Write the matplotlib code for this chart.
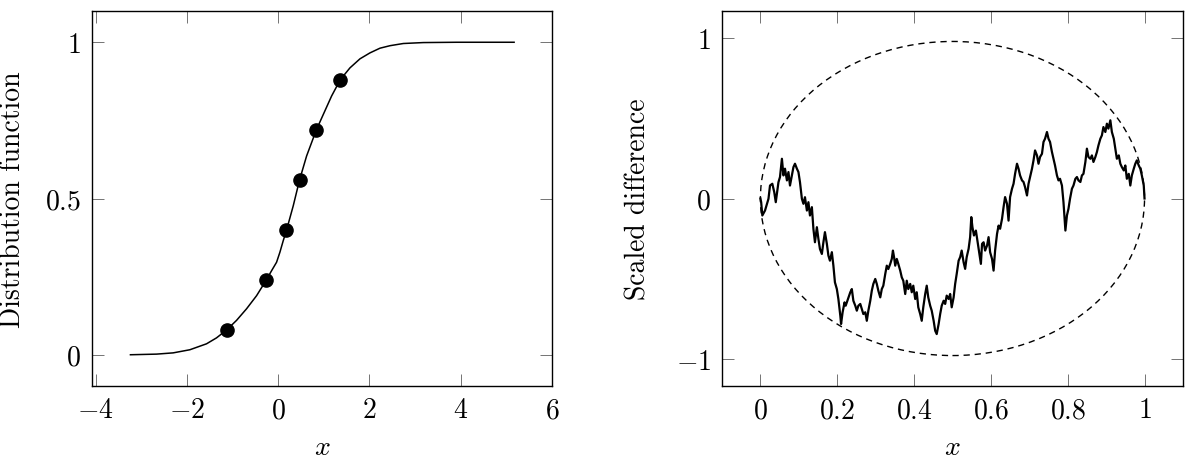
import matplotlib
matplotlib.use("Agg")
import matplotlib.pyplot as plt
from matplotlib.patches import Ellipse

plt.rcParams['font.family'] = 'serif'
plt.rcParams['font.serif'] = ['cmr10', 'DejaVu Serif']
plt.rcParams['mathtext.fontset'] = 'cm'
plt.rcParams['axes.formatter.use_mathtext'] = True

# Left panel: smoothed distribution function and sample points
cdf_x = [-3.238, -2.667, -2.302, -1.936, -1.571, -1.352, -1.125, -0.913, -0.694, -0.474,
         -0.270, -0.145, -0.036, 0.037, 0.110, 0.183, 0.330, 0.467, 0.622, 0.834,
         0.988, 1.170, 1.360, 1.572, 1.792, 2.011, 2.230, 2.450, 2.742, 3.180,
         3.912, 5.169]
cdf_y = [0.0, 0.002, 0.006, 0.016, 0.035, 0.054, 0.080, 0.110, 0.147, 0.189,
         0.237, 0.269, 0.296, 0.328, 0.365, 0.399, 0.477, 0.559, 0.636, 0.719,
         0.769, 0.828, 0.880, 0.918, 0.947, 0.966, 0.981, 0.989, 0.996, 0.999,
         1.0, 1.0]
sample_x = [-1.125, -0.27, 0.18, 0.47, 0.83, 1.36]
sample_y = [0.08, 0.24, 0.40, 0.56, 0.72, 0.88]

left_xticks = [-4, -2, 0, 2, 4, 6]
left_xlabels = ['$-4$', '$-2$', '$0$', '$2$', '$4$', '$6$']
left_yticks = [0, 0.5, 1]
left_ylabels = ['$0$', '$0.5$', '$1$']

# Right panel: scaled difference path and confidence band (ellipse)
diff_x = [0.0, 0.002, 0.005, 0.012, 0.021, 0.025, 0.031, 0.036, 0.040, 0.043,
          0.047, 0.051, 0.056, 0.060, 0.064, 0.069, 0.073, 0.077, 0.082, 0.086,
          0.090, 0.095, 0.099, 0.103, 0.108, 0.112, 0.116, 0.121, 0.125, 0.129,
          0.134, 0.138, 0.142, 0.147, 0.151, 0.155, 0.160, 0.164, 0.168, 0.173,
          0.177, 0.181, 0.186, 0.190, 0.194, 0.199, 0.203, 0.208, 0.210, 0.214,
          0.219, 0.222, 0.228, 0.234, 0.238,
          0.242, 0.247, 0.251, 0.255, 0.260, 0.264, 0.268, 0.273, 0.277, 0.281,
          0.286, 0.290, 0.294, 0.299, 0.303, 0.307, 0.312, 0.316, 0.320, 0.325,
          0.329, 0.333, 0.338, 0.342, 0.345, 0.348, 0.351, 0.355, 0.359, 0.364,
          0.368, 0.372, 0.377, 0.381, 0.385, 0.390, 0.394, 0.398, 0.403, 0.407,
          0.411, 0.416, 0.420, 0.424, 0.429, 0.433, 0.437, 0.442, 0.446, 0.451,
          0.455, 0.459, 0.464, 0.468, 0.472, 0.477, 0.481,
          0.485, 0.490, 0.494, 0.498, 0.503, 0.507, 0.511, 0.516, 0.520, 0.524,
          0.529, 0.533, 0.537, 0.542, 0.546, 0.549, 0.552, 0.556, 0.561, 0.565,
          0.570, 0.574, 0.577, 0.581, 0.585, 0.590, 0.594, 0.598, 0.603, 0.607,
          0.611, 0.616, 0.620, 0.624, 0.629, 0.633, 0.637, 0.642, 0.646, 0.650,
          0.655, 0.659, 0.663, 0.668, 0.672, 0.676, 0.681, 0.685, 0.689, 0.694,
          0.698, 0.702, 0.707, 0.711, 0.715, 0.720, 0.724, 0.728, 0.733,
          0.737, 0.741, 0.746, 0.750, 0.754, 0.759, 0.763, 0.767, 0.772, 0.776,
          0.780, 0.785, 0.789, 0.792, 0.794, 0.798, 0.802, 0.806, 0.811, 0.815,
          0.820, 0.824, 0.828, 0.833, 0.837, 0.841, 0.846, 0.850, 0.854, 0.859,
          0.863, 0.867, 0.872, 0.876, 0.880, 0.885, 0.889, 0.893, 0.898, 0.902,
          0.906, 0.911, 0.915, 0.920, 0.924, 0.928, 0.933, 0.937, 0.941, 0.946,
          0.950, 0.954, 0.959, 0.963, 0.967, 0.972, 0.976, 0.980, 0.985, 0.989,
          0.993, 0.998, 1.0]
diff_y = [0.0, -0.023, -0.106, -0.075, -0.002, 0.081, 0.092, 0.040, -0.023, 0.029,
          0.102, 0.134, 0.248, 0.144, 0.186, 0.113, 0.165, 0.081, 0.144, 0.196,
          0.217, 0.186, 0.165, 0.102, -0.002, -0.033, 0.008, -0.075, -0.023, -0.106,
          -0.054, -0.190, -0.273, -0.179, -0.252, -0.315, -0.346, -0.273, -0.210, -0.283,
          -0.356, -0.388, -0.335, -0.419, -0.523, -0.565, -0.627, -0.731, -0.783, -0.710,
          -0.648, -0.669, -0.627, -0.585, -0.565,
          -0.638, -0.669, -0.700, -0.669, -0.658, -0.690, -0.721, -0.710, -0.763, -0.700,
          -0.638, -0.575, -0.533, -0.502, -0.533, -0.575, -0.617, -0.565, -0.544, -0.471,
          -0.419, -0.440, -0.408, -0.377, -0.325, -0.367, -0.419, -0.377, -0.408, -0.450,
          -0.492, -0.513, -0.596, -0.513, -0.565, -0.533, -0.585, -0.544, -0.627, -0.585,
          -0.679, -0.721, -0.763, -0.679, -0.596, -0.544, -0.617, -0.669, -0.700, -0.763,
          -0.825, -0.846, -0.783, -0.721, -0.669, -0.638, -0.658,
          -0.606, -0.627, -0.596, -0.679, -0.617, -0.533, -0.471, -0.388, -0.366, -0.325,
          -0.398, -0.439, -0.366, -0.314, -0.241, -0.116, -0.179, -0.231, -0.200, -0.263,
          -0.346, -0.408, -0.283, -0.273, -0.325, -0.294, -0.241, -0.335, -0.377, -0.450,
          -0.325, -0.221, -0.169, -0.189, -0.127, -0.054, 0.009, -0.033, -0.138, 0.009,
          0.061, 0.092, 0.154, 0.217, 0.186, 0.144, 0.113, 0.103, 0.071, 0.019,
          0.092, 0.134, 0.186, 0.238, 0.300, 0.269, 0.217, 0.259, 0.279,
          0.353, 0.373, 0.415, 0.373, 0.353, 0.290, 0.248, 0.206, 0.144, 0.113,
          0.123, 0.081, -0.023, -0.127, -0.200, -0.106, -0.064, -0.002, 0.061, 0.081,
          0.123, 0.134, 0.113, 0.103, 0.144, 0.154, 0.228, 0.311, 0.259, 0.248,
          0.269, 0.228, 0.259, 0.290, 0.331, 0.373, 0.394, 0.446, 0.415, 0.467,
          0.436, 0.488, 0.415, 0.373, 0.311, 0.248, 0.269, 0.217, 0.196, 0.175,
          0.206, 0.123, 0.154, 0.081, 0.144, 0.186, 0.217, 0.238, 0.206, 0.186,
          0.144, 0.081, 0.0]

band_center = (0.5, 0.0)
band_width = 1.0
band_height = 1.96

right_xticks = [0, 0.2, 0.4, 0.6, 0.8, 1]
right_xlabels = ['$0$', '$0.2$', '$0.4$', '$0.6$', '$0.8$', '$1$']
right_yticks = [-1, 0, 1]
right_ylabels = ['$-1$', '$0$', '$1$']

fs = 20
lab_fs = 20

fig = plt.figure(figsize=(11.92, 4.6), dpi=100)
ax1 = fig.add_axes([0.0772, 0.1587, 0.3859, 0.8152])
ax2 = fig.add_axes([0.6057, 0.1587, 0.3867, 0.8152])

# Left
ax1.plot(cdf_x, cdf_y, color='black', lw=1.1)
ax1.plot(sample_x, sample_y, 'o', color='black', ms=9.5)
ax1.set_xlim(-4.08, 6.0)
ax1.set_ylim(-0.1, 1.1)
ax1.set_xticks(left_xticks, left_xlabels)
ax1.set_yticks(left_yticks, left_ylabels)
ax1.set_xlabel('$x$', fontsize=lab_fs)
ax1.set_ylabel('Distribution function', fontsize=lab_fs)
ax1.xaxis.set_label_coords(0.5, -0.128)
ax1.yaxis.set_label_coords(-0.143, 0.5)

# Right
ax2.plot(diff_x, diff_y, color='black', lw=1.6)
ax2.add_patch(Ellipse(band_center, band_width, band_height, fill=False,
                      edgecolor='black', lw=1.0, linestyle=(0, (4.5, 3.5))))
ax2.set_xlim(-0.1, 1.1)
ax2.set_ylim(-1.17, 1.17)
ax2.set_xticks(right_xticks, right_xlabels)
ax2.set_yticks(right_yticks, right_ylabels)
ax2.set_xlabel('$x$', fontsize=lab_fs)
ax2.set_ylabel('Scaled difference', fontsize=lab_fs)
ax2.xaxis.set_label_coords(0.5, -0.128)
ax2.yaxis.set_label_coords(-0.152, 0.5)

for ax in (ax1, ax2):
    ax.tick_params(direction='in', top=True, right=True, length=8.5, width=0.7,
                   color='0.45', labelsize=fs, pad=8)
    for s in ax.spines.values():
        s.set_linewidth(1.0)

fig.savefig('out.png', dpi=100)
